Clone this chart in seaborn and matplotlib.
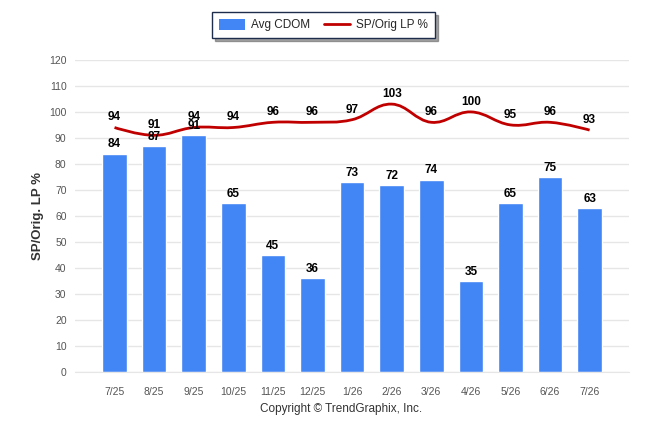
import numpy as np
import pandas as pd
import matplotlib
matplotlib.use("Agg")
import matplotlib.pyplot as plt
from matplotlib.path import Path
from matplotlib.patches import PathPatch, Patch
from matplotlib.lines import Line2D
import seaborn as sns

months = ["7/25", "8/25", "9/25", "10/25", "11/25", "12/25", "1/26",
          "2/26", "3/26", "4/26", "5/26", "6/26", "7/26"]
avg_cdom = [84, 87, 91, 65, 45, 36, 73, 72, 74, 35, 65, 75, 63]
sp_orig_lp = [94, 91, 94, 94, 96, 96, 97, 103, 96, 100, 95, 96, 93]

BAR_COLOR = "#4285F4"
LINE_COLOR = "#C00000"

sns.set_style("white")
plt.rcParams["font.family"] = ["Liberation Sans", "DejaVu Sans"]

df = pd.DataFrame({"month": months, "cdom": avg_cdom, "lp": sp_orig_lp})

fig = plt.figure(figsize=(6.46, 4.34), dpi=100)
ax = fig.add_axes([0.116, 0.143, 0.858, 0.719])

sns.barplot(data=df, x="month", y="cdom", color=BAR_COLOR, width=0.62,
            saturation=1, ax=ax, zorder=2)

# smooth spline-like line (bezier through the data points)
x = np.arange(len(months), dtype=float)
y = np.array(sp_orig_lp, dtype=float)
s = 1.5


def ctrl(j):
    if j == 0 or j == len(x) - 1:
        return x[j], y[j], x[j], y[j]
    lx = (s * x[j] + x[j - 1]) / (s + 1)
    ly = (s * y[j] + y[j - 1]) / (s + 1)
    rx = (s * x[j] + x[j + 1]) / (s + 1)
    ry = (s * y[j] + y[j + 1]) / (s + 1)
    cy = (ry - ly) / (rx - lx) * (x[j] - lx) + ly
    dy = y[j] - cy
    return lx, ly + dy, rx, ry + dy


verts = [(x[0], y[0])]
codes = [Path.MOVETO]
for i in range(len(x) - 1):
    _, _, r0x, r0y = ctrl(i)
    l1x, l1y, _, _ = ctrl(i + 1)
    verts += [(r0x, r0y), (l1x, l1y), (x[i + 1], y[i + 1])]
    codes += [Path.CURVE4] * 3
ax.add_patch(PathPatch(Path(verts, codes), facecolor="none",
                       edgecolor=LINE_COLOR, lw=2, zorder=3))

for i, v in enumerate(avg_cdom):
    ax.text(i, v + 1.2, str(v), ha="center", va="bottom", fontsize=8.5,
            fontweight="bold", color="black", zorder=4)
for i, v in enumerate(sp_orig_lp):
    ax.text(i, v + 1.6, str(v), ha="center", va="bottom", fontsize=8.5,
            fontweight="bold", color="black", zorder=4)

ax.set_xlim(-1, len(months))
ax.set_ylim(0, 120)
ax.set_yticks(range(0, 121, 10))
ax.grid(axis="y", color="#e6e6e6", lw=1, zorder=0)
ax.set_axisbelow(True)
for side in ["top", "right", "left"]:
    ax.spines[side].set_visible(False)
ax.spines["bottom"].set_color("#e6e6e6")
ax.tick_params(axis="both", length=0, labelsize=7.5, colors="#555555")
ax.tick_params(axis="x", pad=11)
ax.tick_params(axis="y", pad=6)
ax.set_xlabel("")
ax.set_ylabel("SP/Orig. LP %", fontsize=9.5, fontweight="bold", color="#333333",
              labelpad=4)

handles = [Patch(facecolor=BAR_COLOR, edgecolor="none"),
           Line2D([0], [0], color=LINE_COLOR, lw=2)]
leg = fig.legend(handles, ["Avg CDOM", "SP/Orig LP %"], loc="center",
                 bbox_to_anchor=(0.501, 0.942), ncol=2, fontsize=8.5,
                 frameon=True, fancybox=False, shadow=True, handlelength=2.2,
                 handleheight=1.0, handletextpad=0.5, columnspacing=1.2,
                 borderpad=0.6, borderaxespad=0)
leg.get_frame().set_edgecolor("#1f2d4d")
leg.get_frame().set_linewidth(1)

fig.text(0.528, 0.057, "Copyright \u00a9 TrendGraphix, Inc.", ha="center",
         va="center", fontsize=8.5, color="#333333")

fig.savefig("out.png", dpi=100)
